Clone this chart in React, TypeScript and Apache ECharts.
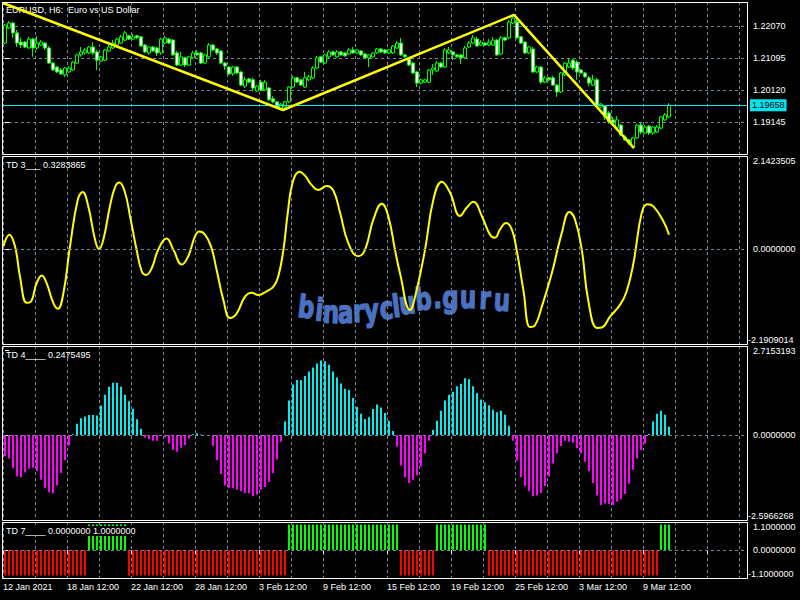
import React, { useEffect, useRef } from 'react';
import * as echarts from 'echarts';

// ---------------- data ----------------
const SLOT_COUNT = 186; // visible bar slots (167 bars + empty space on the right)

const OPEN = [
  1.2155, 1.2201, 1.2216, 1.2186, 1.2158, 1.2158, 1.2140, 1.2167, 1.2140, 1.2149,
  1.2155, 1.2140, 1.2094, 1.2082, 1.2073, 1.2058, 1.2067, 1.2073, 1.2094, 1.2119,
  1.2125, 1.2125, 1.2143, 1.2128, 1.2100, 1.2103, 1.2131, 1.2140, 1.2149, 1.2155,
  1.2164, 1.2177, 1.2167, 1.2177, 1.2174, 1.2149, 1.2125, 1.2143, 1.2140, 1.2125,
  1.2155, 1.2167, 1.2164, 1.2125, 1.2088, 1.2110, 1.2088, 1.2110, 1.2125, 1.2125,
  1.2094, 1.2113, 1.2149, 1.2137, 1.2131, 1.2094, 1.2082, 1.2061, 1.2082, 1.2067,
  1.2024, 1.2046, 1.2043, 1.2009, 1.2036, 1.2012, 1.2018, 1.1985, 1.1976, 1.1957,
  1.1960, 1.1976, 1.2021, 1.2049, 1.2043, 1.2021, 1.2043, 1.2049, 1.2079, 1.2113,
  1.2094, 1.2113, 1.2128, 1.2113, 1.2128, 1.2125, 1.2122, 1.2134, 1.2125, 1.2131,
  1.2122, 1.2110, 1.2113, 1.2125, 1.2137, 1.2134, 1.2125, 1.2125, 1.2140, 1.2155,
  1.2119, 1.2107, 1.2094, 1.2067, 1.2033, 1.2036, 1.2036, 1.2073, 1.2070, 1.2094,
  1.2082, 1.2125, 1.2128, 1.2119, 1.2119, 1.2110, 1.2143, 1.2155, 1.2167, 1.2149,
  1.2155, 1.2149, 1.2149, 1.2164, 1.2122, 1.2171, 1.2171, 1.2216, 1.2219, 1.2174,
  1.2158, 1.2125, 1.2137, 1.2067, 1.2082, 1.2036, 1.2049, 1.2049, 1.2027, 1.2006,
  1.2058, 1.2082, 1.2103, 1.2097, 1.2073, 1.2064, 1.2049, 1.2027, 1.2043, 1.1960,
  1.1963, 1.1942, 1.1921, 1.1899, 1.1905, 1.1869, 1.1860, 1.1838, 1.1866, 1.1905,
  1.1881, 1.1902, 1.1881, 1.1884, 1.1896, 1.1921, 1.1930,
];
const CLOSE = [
  1.2210, 1.2216, 1.2186, 1.2155, 1.2149, 1.2143, 1.2167, 1.2140, 1.2155, 1.2158,
  1.2140, 1.2094, 1.2073, 1.2067, 1.2061, 1.2079, 1.2079, 1.2097, 1.2119, 1.2128,
  1.2134, 1.2143, 1.2125, 1.2103, 1.2113, 1.2134, 1.2143, 1.2155, 1.2167, 1.2174,
  1.2186, 1.2167, 1.2174, 1.2171, 1.2146, 1.2128, 1.2143, 1.2131, 1.2125, 1.2167,
  1.2171, 1.2155, 1.2119, 1.2088, 1.2113, 1.2088, 1.2113, 1.2125, 1.2119, 1.2094,
  1.2119, 1.2149, 1.2134, 1.2125, 1.2094, 1.2085, 1.2061, 1.2082, 1.2064, 1.2027,
  1.2043, 1.2036, 1.2018, 1.2024, 1.2012, 1.2036, 1.1982, 1.1976, 1.1960, 1.1969,
  1.1976, 1.2021, 1.2049, 1.2036, 1.2027, 1.2049, 1.2052, 1.2079, 1.2110, 1.2097,
  1.2119, 1.2128, 1.2119, 1.2128, 1.2119, 1.2116, 1.2134, 1.2125, 1.2134, 1.2119,
  1.2110, 1.2119, 1.2125, 1.2137, 1.2128, 1.2125, 1.2134, 1.2146, 1.2155, 1.2119,
  1.2113, 1.2088, 1.2064, 1.2033, 1.2043, 1.2043, 1.2073, 1.2079, 1.2094, 1.2082,
  1.2134, 1.2134, 1.2119, 1.2113, 1.2110, 1.2140, 1.2155, 1.2171, 1.2146, 1.2158,
  1.2149, 1.2158, 1.2164, 1.2119, 1.2171, 1.2164, 1.2219, 1.2231, 1.2171, 1.2155,
  1.2125, 1.2143, 1.2067, 1.2082, 1.2036, 1.2049, 1.2043, 1.2027, 1.2006, 1.2064,
  1.2094, 1.2094, 1.2079, 1.2067, 1.2064, 1.2052, 1.2033, 1.2043, 1.1966, 1.1969,
  1.1930, 1.1915, 1.1912, 1.1921, 1.1875, 1.1860, 1.1851, 1.1866, 1.1905, 1.1884,
  1.1899, 1.1881, 1.1899, 1.1899, 1.1930, 1.1936, 1.19658,
];
const HIGH = [
  1.2213, 1.2222, 1.2219, 1.2195, 1.2171, 1.2161, 1.2174, 1.2171, 1.2177, 1.2164,
  1.2158, 1.2146, 1.2097, 1.2085, 1.2079, 1.2082, 1.2085, 1.2100, 1.2122, 1.2143,
  1.2140, 1.2146, 1.2158, 1.2134, 1.2116, 1.2137, 1.2149, 1.2164, 1.2171, 1.2180,
  1.2192, 1.2180, 1.2183, 1.2180, 1.2177, 1.2152, 1.2146, 1.2146, 1.2143, 1.2171,
  1.2177, 1.2171, 1.2167, 1.2131, 1.2128, 1.2113, 1.2116, 1.2131, 1.2134, 1.2128,
  1.2122, 1.2155, 1.2152, 1.2140, 1.2134, 1.2097, 1.2085, 1.2085, 1.2085, 1.2070,
  1.2052, 1.2049, 1.2049, 1.2027, 1.2043, 1.2043, 1.2021, 1.1994, 1.1979, 1.1972,
  1.1979, 1.2024, 1.2055, 1.2052, 1.2046, 1.2067, 1.2058, 1.2085, 1.2116, 1.2116,
  1.2122, 1.2134, 1.2131, 1.2134, 1.2131, 1.2128, 1.2140, 1.2143, 1.2137, 1.2134,
  1.2125, 1.2122, 1.2128, 1.2140, 1.2140, 1.2137, 1.2137, 1.2149, 1.2161, 1.2171,
  1.2122, 1.2110, 1.2097, 1.2070, 1.2046, 1.2046, 1.2076, 1.2091, 1.2100, 1.2097,
  1.2140, 1.2143, 1.2131, 1.2122, 1.2122, 1.2146, 1.2161, 1.2180, 1.2174, 1.2164,
  1.2158, 1.2167, 1.2174, 1.2167, 1.2177, 1.2174, 1.2225, 1.2241, 1.2228, 1.2177,
  1.2161, 1.2146, 1.2143, 1.2085, 1.2085, 1.2055, 1.2052, 1.2055, 1.2030, 1.2067,
  1.2097, 1.2110, 1.2107, 1.2103, 1.2076, 1.2067, 1.2055, 1.2058, 1.2049, 1.1972,
  1.1966, 1.1948, 1.1930, 1.1933, 1.1909, 1.1875, 1.1863, 1.1869, 1.1909, 1.1915,
  1.1905, 1.1905, 1.1902, 1.1905, 1.1933, 1.1942, 1.1972,
];
const LOW = [
  1.2152, 1.2198, 1.2171, 1.2143, 1.2140, 1.2140, 1.2137, 1.2113, 1.2134, 1.2146,
  1.2134, 1.2091, 1.2070, 1.2064, 1.2058, 1.2052, 1.2064, 1.2070, 1.2091, 1.2113,
  1.2119, 1.2122, 1.2119, 1.2073, 1.2097, 1.2100, 1.2128, 1.2137, 1.2146, 1.2152,
  1.2161, 1.2164, 1.2164, 1.2167, 1.2143, 1.2125, 1.2119, 1.2128, 1.2116, 1.2119,
  1.2152, 1.2152, 1.2116, 1.2085, 1.2085, 1.2082, 1.2085, 1.2107, 1.2116, 1.2091,
  1.2091, 1.2110, 1.2131, 1.2119, 1.2091, 1.2073, 1.2058, 1.2055, 1.2061, 1.2024,
  1.2018, 1.2033, 1.2009, 1.2006, 1.2009, 1.2009, 1.1979, 1.1972, 1.1957, 1.1951,
  1.1957, 1.1972, 1.2018, 1.2033, 1.2024, 1.2018, 1.2039, 1.2046, 1.2076, 1.2094,
  1.2091, 1.2110, 1.2116, 1.2110, 1.2116, 1.2113, 1.2119, 1.2122, 1.2122, 1.2116,
  1.2107, 1.2082, 1.2110, 1.2122, 1.2125, 1.2122, 1.2122, 1.2122, 1.2137, 1.2116,
  1.2110, 1.2085, 1.2061, 1.2021, 1.2030, 1.2033, 1.2033, 1.2058, 1.2067, 1.2079,
  1.2079, 1.2122, 1.2103, 1.2110, 1.2091, 1.2107, 1.2140, 1.2152, 1.2143, 1.2146,
  1.2146, 1.2146, 1.2146, 1.2116, 1.2119, 1.2161, 1.2167, 1.2213, 1.2167, 1.2152,
  1.2122, 1.2122, 1.2064, 1.2064, 1.2030, 1.2033, 1.2039, 1.2024, 1.1991, 1.2003,
  1.2055, 1.2079, 1.2073, 1.2043, 1.2061, 1.2049, 1.2024, 1.2024, 1.1963, 1.1957,
  1.1921, 1.1909, 1.1905, 1.1896, 1.1872, 1.1857, 1.1845, 1.1835, 1.1863, 1.1878,
  1.1878, 1.1875, 1.1875, 1.1881, 1.1893, 1.1918, 1.1927,
];

const BID = 1.19658;
const PRICE_MIN = 1.1817;
const PRICE_MAX = 1.22801;
const PRICE_STEP = 0.00975;

// ZigZag vertices (bar position, price)
const ZIGZAG_BARS = [-0.5, 69.5, 127.25, 157.25];
const ZIGZAG_PRICES = [1.2277, 1.1951, 1.2241, 1.1835];

// TD 3 line (bar position, value)
const TD3_BARS = [
  -0.4, 1.1, 2.5, 3.75, 5.4, 6.4, 7.9, 9.2, 10.4, 12.1, 13.2, 14.6, 16.25, 18.2, 19.4, 20.8,
  22.5, 23.5, 24.6, 26.25, 27.5, 28.6, 30.0, 31.25, 32.9, 34.2, 35.25, 36.7, 38.3, 40.4, 42.1,
  44.2, 45.8, 47.5, 48.6, 50.0, 51.5, 52.9, 54.6, 56.25, 57.9, 60.0, 61.7, 63.3, 65.4, 67.1,
  68.3, 69.6, 70.6, 71.9, 73.6, 75.0, 76.7, 78.3, 80.4, 82.1, 83.75, 85.8, 88.3, 90.0, 92.1,
  94.2, 95.8, 97.5, 98.75, 101.25, 102.9, 105.0, 107.1, 109.2, 111.25, 113.75, 115.4, 117.1,
  119.2, 121.25, 122.5, 123.75, 125.25, 126.7, 127.9, 129.6, 131.25, 132.5, 134.2, 136.7,
  139.2, 141.1, 142.5, 144.2, 145.8, 148.0, 149.2, 151.25, 153.75, 155.4, 157.1, 159.2,
  160.6, 162.1, 164.6, 166,
];
const TD3_VALUES = [
  0.06, 0.33, 0.06, -0.64, -1.24, -1.22, -0.79, -0.61, -0.79, -1.25, -1.38, -1.02, 0.06, 1.14, 1.31, 0.99,
  0.22, 0.0, 0.22, 0.99, 1.42, 1.53, 1.30, 0.76, -0.02, -0.52, -0.60, -0.44, -0.02, 0.24, -0.02,
  -0.36, -0.17, 0.29, 0.40, 0.33, 0.06, -0.48, -1.18, -1.59, -1.49, -1.10, -1.01, -1.06, -0.98, -0.87,
  -0.64, -0.02, 0.76, 1.53, 1.78, 1.69, 1.47, 1.36, 1.45, 1.34, 0.84, 0.14, -0.17, -0.02, 0.68,
  1.04, 0.76, -0.02, -0.56, -1.41, -0.95, -0.02, 1.14, 1.55, 1.30, 0.76, 0.95, 1.09,
  0.76, 0.33, 0.26, 0.45, 0.60, 0.45, -0.02, -0.95, -1.80, -1.76, -1.33, -0.56,
  0.37, 0.85, 0.68, -0.02, -1.18, -1.82, -1.81, -1.56, -1.29, -0.98, -0.33, 0.84,
  1.03, 0.98, 0.64, 0.3284,
];
const TD3_MIN = -2.1909014;
const TD3_MAX = 2.1423505;

// TD 4 histogram, one value per bar
const TD4_VALUES = [
  -0.64, -0.72, -1.01, -1.26, -1.29, -1.15, -1.03, -1.00, -1.10, -1.37,
  -1.63, -1.75, -1.78, -1.54, -1.16, -0.77, -0.33, 0.02, 0.34, 0.51,
  0.56, 0.61, 0.61, 0.59, 0.90, 1.23, 1.47, 1.59, 1.59, 1.47,
  1.23, 1.03, 0.80, 0.48, 0.19, -0.08, -0.13, -0.18, -0.18, -0.01,
  -0.08, -0.26, -0.46, -0.51, -0.39, -0.31, -0.11, 0.02, 0.05, 0.01,
  -0.01, -0.01, -0.34, -0.77, -1.20, -1.54, -1.62, -1.63, -1.67, -1.72,
  -1.78, -1.78, -1.87, -1.82, -1.67, -1.59, -1.44, -1.16, -0.75, -0.21,
  0.41, 1.05, 1.54, 1.68, 1.67, 1.80, 1.94, 2.06, 2.18, 2.27,
  2.25, 2.14, 1.94, 1.75, 1.57, 1.41, 1.37, 1.13, 0.85, 0.65,
  0.49, 0.54, 0.79, 0.93, 0.84, 0.67, 0.43, 0.12, -0.36, -0.93,
  -1.29, -1.47, -1.37, -1.23, -0.96, -0.57, -0.18, 0.15, 0.43, 0.74,
  1.05, 1.23, 1.32, 1.49, 1.56, 1.73, 1.70, 1.49, 1.27, 1.08,
  1.00, 0.91, 0.77, 0.69, 0.74, 0.62, 0.28, -0.18, -0.79, -1.29,
  -1.56, -1.72, -1.87, -1.85, -1.77, -1.56, -1.27, -0.87, -0.57, -0.34,
  -0.18, -0.21, -0.24, -0.41, -0.57, -0.82, -1.10, -1.47, -1.85, -2.14,
  -2.09, -2.11, -2.14, -2.04, -1.96, -1.80, -1.49, -1.06, -0.72, -0.46,
  -0.26, 0.03, 0.41, 0.65, 0.74, 0.62, 0.2475,
];
const TD4_MIN = -2.5966268;
const TD4_MAX = 2.7153193;

// TD 7 state runs: [first bar, last bar, value]
const TD7_RUNS: [number, number, number][] = [
  [0, 20, -1], [21, 30, 1], [31, 70, -1], [71, 98, 1],
  [99, 107, -1], [108, 120, 1], [121, 163, -1], [164, 166, 1],
];
const TD7_MIN = -1.1;
const TD7_MAX = 1.1;

const TIME_LABELS = [
  '12 Jan 2021', '18 Jan 12:00', '22 Jan 12:00', '28 Jan 12:00', '3 Feb 12:00', '9 Feb 12:00',
  '15 Feb 12:00', '19 Feb 12:00', '25 Feb 12:00', '3 Mar 12:00', '9 Mar 12:00',
];

const PANE_TITLES = [
  'EURUSD, H6:  Euro vs US Dollar',
  'TD 3___ 0.3283865',
  'TD 4____ 0.2475495',
  'TD 7____ 0.0000000 1.0000000',
];

// ---------------- styles ----------------
const FONT_FAMILY = '"Liberation Sans", Arial, sans-serif';
const FONT_SIZE = 9;
const WHITE = '#ffffff';
const GRID_COLOR = '#778899';
const BID_COLOR = '#00e6f0';
const BAR_CYAN = '#00eeee';
const BAR_MAGENTA = '#ff00ff';
const YELLOW = '#ffff00';
const WM_COLOR = '#4b72c2';

function fmt7(v: number) {
  if (Math.abs(v) < 1e-9) return '0.0000000';
  return v.toFixed(7);
}

function buildOption() {
  const slots = Array.from({ length: SLOT_COUNT }, (_, i) => String(i));
  const candles = OPEN.map((o, i) => [o, CLOSE[i], LOW[i], HIGH[i]]);
  const zigzag = ZIGZAG_BARS.map((b, i) => [b, ZIGZAG_PRICES[i]]);
  const td3 = TD3_BARS.map((b, i) => [b, TD3_VALUES[i]]);
  const td7: number[] = [];
  TD7_RUNS.forEach(([from, to, v]) => {
    for (let i = from; i <= to; i++) td7[i] = v;
  });

  const grids = [
    { left: 3, right: 53, top: 2, height: 152 },
    { left: 3, right: 53, top: 156, height: 188 },
    { left: 3, right: 53, top: 346, height: 174 },
    { left: 3, right: 53, top: 522, height: 56 },
  ];

  const labelStyle = { color: WHITE, fontFamily: FONT_FAMILY, fontSize: FONT_SIZE };

  const vSplit = (gridIndex: number) => ({
    type: 'value', gridIndex, min: -0.5, max: SLOT_COUNT - 0.5, interval: 8,
    axisLine: { show: false }, axisTick: { show: false }, axisLabel: { show: false },
    splitLine: { show: true, lineStyle: { color: GRID_COLOR, type: [3, 3], width: 1 } },
  });
  const hiddenCat = (gridIndex: number) => ({
    type: 'category', gridIndex, data: slots, boundaryGap: true, show: false,
  });

  const xAxis = [
    hiddenCat(0),        // 0 candles
    vSplit(0),           // 1 zigzag + grid
    vSplit(1),           // 2 td3 + grid
    hiddenCat(2),        // 3 td4
    vSplit(2),           // 4 grid
    hiddenCat(3),        // 5 td7
    vSplit(3),           // 6 grid
    {                    // 7 time labels
      type: 'value', gridIndex: 3, min: -0.5, max: SLOT_COUNT - 0.5, interval: 16,
      position: 'bottom',
      axisLine: { show: false },
      axisTick: { show: true, length: 4, lineStyle: { color: WHITE } },
      splitLine: { show: false },
      axisLabel: {
        ...labelStyle, margin: 4, align: 'left',
        formatter: (v: number) => TIME_LABELS[Math.round((v + 0.5) / 16)] ?? '',
      },
    },
  ];

  const indAxes = (gridIndex: number, min: number, max: number) => {
    const base = {
      type: 'value', gridIndex, position: 'right', min, max, interval: -min,
      axisLine: { show: false }, splitLine: { show: false },
    };
    return [
      {
        ...base,
        axisTick: { show: true, length: 4, lineStyle: { color: WHITE } },
        axisLabel: { ...labelStyle, margin: 6, formatter: (v: number) => (Math.abs(v) < 1e-9 ? fmt7(0) : '') },
      },
      {
        ...base,
        axisTick: { show: false },
        axisLabel: {
          ...labelStyle, margin: 6, verticalAlign: 'top',
          formatter: (v: number) => (Math.abs(v - max) < 1e-9 ? fmt7(max) : ''),
        },
      },
      {
        ...base,
        axisTick: { show: false },
        axisLabel: {
          ...labelStyle, margin: 1, verticalAlign: 'bottom',
          formatter: (v: number) => (Math.abs(v - min) < 1e-9 ? fmt7(min) : ''),
        },
      },
    ];
  };

  const yAxis = [
    {
      type: 'value', gridIndex: 0, position: 'right',
      min: PRICE_MIN, max: PRICE_MAX, interval: PRICE_STEP,
      axisLine: { show: false },
      axisTick: { show: true, length: 4, lineStyle: { color: WHITE } },
      splitLine: { show: true, lineStyle: { color: GRID_COLOR, type: [3, 3], width: 1 } },
      axisLabel: {
        ...labelStyle, margin: 6, showMinLabel: false, showMaxLabel: false,
        formatter: (v: number) => v.toFixed(5),
      },
    },
    ...indAxes(1, TD3_MIN, TD3_MAX), // 1,2,3
    ...indAxes(2, TD4_MIN, TD4_MAX), // 4,5,6
    ...indAxes(3, TD7_MIN, TD7_MAX), // 7,8,9
  ];

  const zeroLine = {
    silent: true, symbol: ['none', 'none'], label: { show: false }, precision: 7,
    lineStyle: { color: GRID_COLOR, type: [3, 3], width: 1 },
    data: [{ yAxis: 0 }],
  };

  const series: any[] = [
    {
      type: 'candlestick', xAxisIndex: 0, yAxisIndex: 0, data: candles, barWidth: 3,
      itemStyle: { color: '#000000', color0: '#ffffff', borderColor: '#00ff00', borderColor0: '#00ff00', borderWidth: 1 },
    },
    {
      type: 'line', xAxisIndex: 1, yAxisIndex: 0, data: zigzag, symbol: 'none', z: 5,
      lineStyle: { color: YELLOW, width: 2.5 },
      markLine: {
        silent: true, symbol: ['none', 'none'], precision: 5,
        lineStyle: { color: BID_COLOR, type: 'solid', width: 1 },
        label: {
          show: true, position: 'end', distance: 3, formatter: BID.toFixed(5),
          color: '#000000', backgroundColor: BID_COLOR, padding: [2, 2, 1, 2],
          fontFamily: FONT_FAMILY, fontSize: FONT_SIZE,
        },
        data: [{ yAxis: BID }],
      },
    },
    {
      type: 'line', xAxisIndex: 2, yAxisIndex: 1, data: td3, symbol: 'none', smooth: 0.45,
      lineStyle: { color: YELLOW, width: 2 }, markLine: zeroLine,
    },
    {
      type: 'bar', xAxisIndex: 3, yAxisIndex: 4, data: TD4_VALUES, barWidth: 2,
      itemStyle: { color: (p: any) => (p.value >= 0 ? BAR_CYAN : BAR_MAGENTA) },
      markLine: zeroLine,
    },
    {
      type: 'bar', xAxisIndex: 5, yAxisIndex: 7, data: td7, barWidth: 2,
      itemStyle: { color: (p: any) => (p.value >= 0 ? '#00ff00' : '#ff0000') },
      markLine: zeroLine,
    },
  ];

  // decorative elements
  const font = `${FONT_SIZE}px ${FONT_FAMILY}`;
  const frames = grids.map((g) => ({
    type: 'rect', z: 100, silent: true,
    shape: { x: 2.5, y: g.top + 0.5, width: 745, height: g.height },
    style: { fill: 'none', stroke: WHITE, lineWidth: 1 },
  }));
  const titleY = [10, 165, 355, 531];
  const titles = PANE_TITLES.map((t, i) => ({
    type: 'text', z: i === 3 ? 60 : 1, silent: true, x: 6, y: titleY[i],
    style: {
      text: t, fill: WHITE, font, align: 'left', verticalAlign: 'middle',
      ...(i === 3 ? { backgroundColor: '#000000', lineHeight: 10, padding: [0, 2, 0, 0] } : {}),
    },
  }));

  const wm: [string, number, number][] = [
    ['b', 306.5, 317], ['i', 319.5, 320], ['n', 331, 322], ['a', 345.5, 322], ['r', 358.5, 321],
    ['y', 371.5, 320], ['c', 386.5, 318], ['l', 396, 316], ['u', 407, 313], ['b', 423.5, 309],
    ['.', 437.5, 307], ['g', 450.5, 307], ['u', 468, 307], ['r', 485, 308], ['u', 502, 310],
  ];
  const wmEls = wm.map(([ch, x, base], i) => {
    const prev = wm[Math.max(0, i - 1)];
    const next = wm[Math.min(wm.length - 1, i + 1)];
    const ang = Math.atan2(next[2] - prev[2], next[1] - prev[1]) * 0.5;
    return {
      type: 'text', z: 0, silent: true, x, y: base - 10, rotation: -ang, scaleX: 0.74,
      style: {
        text: ch, fill: WM_COLOR, stroke: WM_COLOR, lineWidth: 1.4,
        font: 'bold 31px "DejaVu Sans", sans-serif', align: 'center', verticalAlign: 'middle',
      },
    };
  });

  return {
    animation: false,
    backgroundColor: '#000000',
    grid: grids.map((g) => ({ ...g, show: false })),
    xAxis,
    yAxis,
    series,
    graphic: { elements: [...wmEls, ...titles, ...frames] },
  };
}

export default function App() {
  const ref = useRef<HTMLDivElement>(null);
  useEffect(() => {
    if (!ref.current) return;
    const chart = echarts.init(ref.current, null, { renderer: 'svg' });
    chart.setOption(buildOption() as any);
    return () => chart.dispose();
  }, []);
  return (
    <div
      ref={ref}
      style={{ position: 'fixed', left: 0, top: 0, width: 800, height: 600, background: '#000' }}
    />
  );
}
